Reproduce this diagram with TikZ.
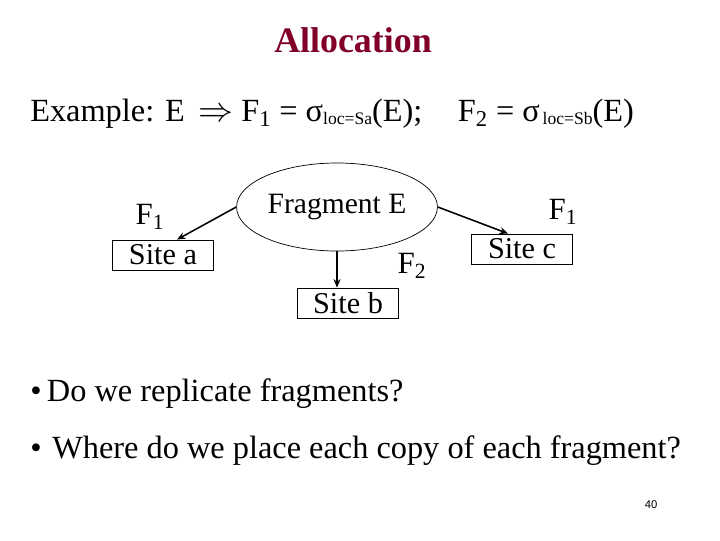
\documentclass[tikz,border=0pt]{standalone}
\usepackage{fontspec}
\setmainfont{Liberation Serif}
\newfontfamily\pagenofont{Liberation Sans}
\usepackage{xcolor}
\usetikzlibrary{arrows.meta, positioning, shapes.geometric, calc}
\definecolor{titlered}{RGB}{128,0,40}
\newcommand{\lowsub}[1]{\raisebox{-0.25ex}{\fontsize{12.5}{14}\selectfont #1}}

\begin{document}
\begin{tikzpicture}[
  x=0.025cm, y=-0.025cm,
  every node/.style={inner sep=0pt},
  site/.style ={draw, line width=0.6pt, minimum width=2.52cm, minimum height=0.75cm,
                font=\fontsize{21.5}{24}\selectfont},
  flab/.style ={font=\fontsize{22}{24}\selectfont},
  frag/.style ={ellipse, draw, line width=0.5pt, minimum width=5.02cm, minimum height=2.2cm,
                font=\fontsize{21}{24}\selectfont},
  arr/.style  ={-{Stealth[length=6pt,width=5pt]}, line width=1.1pt},
  bul/.style  ={anchor=base west, font=\fontsize{23}{26}\selectfont}
]
\useasboundingbox (0,0) rectangle (720,540);

%% title and formula
\node[anchor=base, font=\fontsize{25.5}{28}\selectfont\bfseries, text=titlered] (title) at (353,52) {Allocation};
\node[anchor=base west, font=\fontsize{23}{26}\selectfont] (expl) at (30,121)
  {Example: E \,$\Rightarrow$ F\textsubscript{1} = σ\lowsub{loc=Sa}(E);\hspace{1.1em}F\textsubscript{2} = σ\kern2pt\lowsub{loc=Sb}(E)};

%% fragment and sites
\node[frag] (frag) at (337,207) {Fragment E};
\node[site] (sa) at (163,255) {Site a};
\node[site] (sb) at (348,303) {Site b};
\node[site] (sc) at (522,249) {Site c};

%% fragment labels
\node[flab] (fa) at (150,217) {F\textsubscript{1}};
\node[flab] (fb) at (412,266) {F\textsubscript{2}};
\node[flab] (fc) at (563,212) {F\textsubscript{1}};

%% connectors
\draw[arr] (frag.west) -- ($(sa.north)+(14,0)$);
\draw[arr] (frag.south) -- (frag.south |- sb.north);
\draw[arr] (frag.east) -- ($(sc.north)+(-14,0)$);

%% bullets
\node[bul] (q1) at (30,401) {\textbullet\,Do we replicate fragments?};
\node[bul] (q2) at (30,458) {\textbullet\,\,Where do we place each copy of each fragment?};

%% page number
\node[font=\pagenofont\fontsize{8}{10}\selectfont] (pg) at (651,505) {40};
\end{tikzpicture}
\end{document}
